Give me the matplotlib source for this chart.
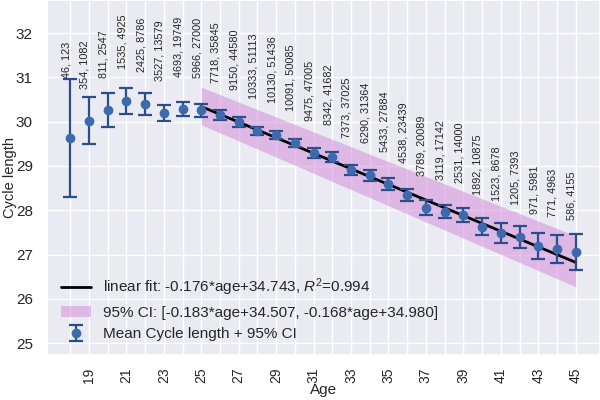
import matplotlib
matplotlib.use('Agg')
import matplotlib.pyplot as plt
import seaborn as sns
import numpy as np

ages = np.arange(18, 46)
mean_len = [29.63, 30.02, 30.27, 30.47, 30.40, 30.20, 30.29, 30.26, 30.15, 29.99,
            29.79, 29.70, 29.52, 29.30, 29.21, 28.91, 28.79, 28.59, 28.34, 28.06,
            27.97, 27.89, 27.63, 27.49, 27.40, 27.20, 27.13, 27.06]
ci_half = [1.33, 0.53, 0.39, 0.29, 0.25, 0.18, 0.16, 0.15, 0.12, 0.11,
           0.10, 0.10, 0.10, 0.11, 0.11, 0.12, 0.12, 0.13, 0.14, 0.165,
           0.15, 0.16, 0.19, 0.22, 0.245, 0.29, 0.32, 0.41]
n_users = [46, 354, 811, 1535, 2425, 3527, 4693, 5966, 7718, 9150,
           10333, 10130, 10091, 9475, 8342, 7373, 6290, 5433, 4538, 3789,
           3119, 2531, 1892, 1523, 1205, 971, 771, 586]
n_cycles = [123, 1082, 2547, 4925, 8786, 13579, 19749, 27000, 35845, 44580,
            51113, 51436, 50085, 47005, 41682, 37025, 31364, 27884, 23439, 20089,
            17142, 14000, 10875, 8678, 7393, 5981, 4963, 4155]

# fit and its CI (from legend)
fit_ages = np.arange(25, 46)
fit_coef = (-0.176, 34.743)
ci_low_coef = (-0.183, 34.507)
ci_high_coef = (-0.168, 34.980)
r2 = 0.994

sns.set_theme(style='darkgrid')
plt.rcParams['font.family'] = ['Liberation Sans', 'DejaVu Sans']
plt.rcParams['mathtext.fontset'] = 'custom'
plt.rcParams['mathtext.rm'] = 'Liberation Sans'
plt.rcParams['mathtext.it'] = 'Liberation Sans:italic'

fig = plt.figure(figsize=(6, 4), dpi=100)
ax = fig.add_axes([0.078, 0.1125, 0.922, 0.8875])

mean_len = np.array(mean_len)
ci_half = np.array(ci_half)

ax.plot(fit_ages, fit_coef[0] * fit_ages + fit_coef[1], color='black', lw=2,
        label='linear fit: %.3f*age+%.3f, $R^2$=%.3f' % (fit_coef[0], fit_coef[1], r2), zorder=3)
ax.fill_between(fit_ages, ci_low_coef[0] * fit_ages + ci_low_coef[1],
                ci_high_coef[0] * fit_ages + ci_high_coef[1], color='#d58fdc', alpha=0.55, lw=0,
                label='95%% CI: [%.3f*age+%.3f, %.3f*age+%.3f]' % (ci_low_coef + ci_high_coef), zorder=2)
ax.errorbar(ages, mean_len, yerr=ci_half, fmt='o', color='#3d6aad', ecolor='#2a4d8c',
            markersize=6, capsize=5, elinewidth=1.6, capthick=1.6,
            label='Mean Cycle length + 95% CI', zorder=4)

for a, m, c, nu, nc in zip(ages, mean_len, ci_half, n_users, n_cycles):
    ytxt = max(m + 0.72, m + c + 0.03)
    ax.text(a + 0.05, ytxt, '%d, %d' % (nu, nc), rotation=90, ha='right', va='bottom', fontsize=7.8)

ax.set_xlim(16.75, 46.3)
ax.set_ylim(24.73, 32.75)
ax.set_xticks(ages)
ax.set_xticklabels([str(a) if a % 2 == 1 else '' for a in ages], rotation=90)
ax.tick_params(axis='x', labelsize=10, pad=3)
ax.set_yticks(range(25, 33))
ax.tick_params(axis='y', labelsize=11, pad=4)
ax.set_xlabel('Age', fontsize=11, labelpad=0)
ax.set_ylabel('Cycle length', fontsize=10.5)
ax.yaxis.set_label_coords(-0.054, 0.5)
ax.legend(loc='lower left', frameon=False, fontsize=11, labelspacing=0.5)

fig.savefig('out.png', dpi=100)
